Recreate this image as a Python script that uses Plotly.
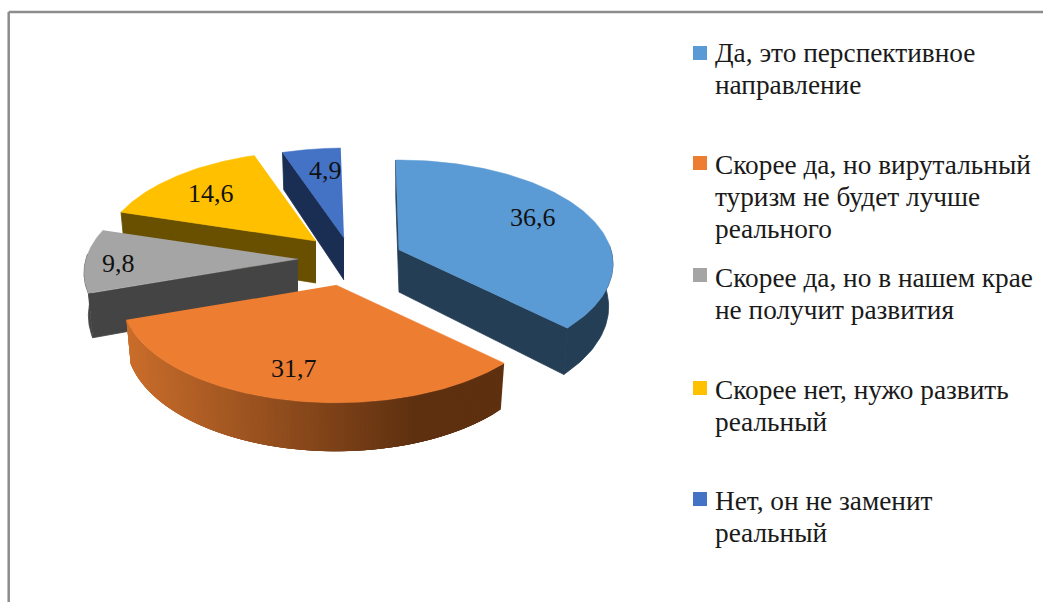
import numpy as np
import plotly.graph_objects as go

# ---- data ----
categories = [
    "Да, это перспективное<br>направление",
    "Скорее да, но вирутальный<br>туризм не будет лучше<br>реального",
    "Скорее да, но в нашем крае<br>не получит развития",
    "Скорее нет, нужо развить<br>реальный",
    "Нет, он не заменит<br>реальный",
]
values = [36.6, 31.7, 9.8, 14.6, 4.9]
value_text = ["36,6", "31,7", "9,8", "14,6", "4,9"]

# ---- style ----
top_colors = ["#5b9bd5", "#ed7d31", "#a5a5a5", "#ffc000", "#4472c4"]
wall_colors = ["#243e56", None, "#444444", "#695000", "#1a2d52"]
grad_from, grad_to = np.array([203, 110, 44]), np.array([94, 48, 16])

# view parameters of the tilted, exploded disc
RX, TILT, PERSP, DEPTH, ROTATION = 212, 102, 0.134, 42, -1.0
apex_x = [399, 336, 298, 316, 344]
apex_y = [250, 285, 259, 241, 238]
draw_order = [3, 4, 2, 0, 1]
label_dx = [134, -42, -180, -105, -19]
label_dy = [-33, 83, 4, -48, -68]
legend_y = [53, 165, 278, 390, 501]
legend_marker_y = [53, 163, 275, 388, 499]
LINE_STEP = 32


def project(ax, ay, deg, r=1.0, drop=False):
    t = np.radians(deg)
    s = 1 / (1 + PERSP * np.cos(t) * r)
    x = RX * np.sin(t) * r * s
    y = -TILT * np.cos(t) * r * s
    if drop:
        return ax + 0.98 * x, ay + y + DEPTH * s
    return ax + x, ay + y


def poly(xs, ys, color, lw=0.8):
    return go.Scatter(x=list(xs), y=list(ys), mode="lines", fill="toself",
                      fillcolor=color, line=dict(color=color, width=lw),
                      hoverinfo="skip", showlegend=False)


fig = go.Figure()
shares = np.array(values) / sum(values) * 360
ends = np.cumsum(shares) + ROTATION
starts = ends - shares

for i in draw_order:
    a0, a1 = starts[i], ends[i]
    ax, ay = apex_x[i], apex_y[i]
    th = np.linspace(a0, a1, 120)
    tx, ty = project(ax, ay, th)
    bx, by = project(ax, ay, th, drop=True)
    abx, aby = project(ax, ay, 0.0, r=0.0, drop=True)
    col = wall_colors[i]
    # radial cut faces: only those turned towards the viewer
    if col:
        if np.sin(np.radians(a0)) < 0:
            fig.add_trace(poly([ax, tx[0], bx[0], abx], [ay, ty[0], by[0], aby], col))
        if np.sin(np.radians(a1)) > 0:
            fig.add_trace(poly([ax, tx[-1], bx[-1], abx], [ay, ty[-1], by[-1], aby], col))
    # outer rim: only its front part
    front = np.cos(np.radians(th)) < 0.05
    if front.any():
        idx = np.where(front)[0]
        if col:
            rx, ry = tx[idx], ty[idx]
            qx, qy = bx[idx], by[idx]
            fig.add_trace(poly(np.r_[rx, qx[::-1]], np.r_[ry, qy[::-1]], col))
        else:
            # shaded rim: narrow bands, each overlapping the next one
            for k in idx[:-1]:
                m = min(k + 4, idx[-1])
                f = np.clip((tx[k] - 125) / (420 - 125), 0, 1)
                c = grad_from + (grad_to - grad_from) * f
                shade = "rgb(%d,%d,%d)" % tuple(c)
                fig.add_trace(poly(np.r_[tx[k:m + 1], bx[k:m + 1][::-1]],
                                   np.r_[ty[k:m + 1], by[k:m + 1][::-1]], shade, lw=0))
    fig.add_trace(poly(np.r_[ax, tx], np.r_[ay, ty], top_colors[i], lw=0.5))

# value labels
for i in range(len(values)):
    fig.add_annotation(x=apex_x[i] + label_dx[i], y=apex_y[i] + label_dy[i],
                       text=value_text[i], showarrow=False,
                       xanchor="center", yanchor="middle",
                       font=dict(family="Liberation Serif", size=26, color="#111111"))

# legend
fig.add_trace(go.Scatter(x=[700] * len(categories), y=legend_marker_y, mode="markers",
                         marker=dict(symbol="square", size=14, color=top_colors),
                         hoverinfo="skip", showlegend=False))
for i, c in enumerate(categories):
    for j, line in enumerate(c.split("<br>")):
        fig.add_annotation(x=713, y=legend_y[i] + j * LINE_STEP, text=line, showarrow=False,
                           xanchor="left", yanchor="middle", align="left",
                           font=dict(family="Liberation Serif", size=27.3, color="#1a1a1a"))

# chart frame (only top and left edges fall inside the picture)
frame = dict(color="#8c8c8c", width=2.5)
fig.add_shape(type="line", x0=8.7, x1=8.7, y0=12, y1=602, line=frame)
fig.add_shape(type="line", x0=8.7, x1=1043, y0=12, y1=12, line=frame)

fig.update_xaxes(range=[0, 1043], visible=False, fixedrange=True)
fig.update_yaxes(range=[602, 0], visible=False, fixedrange=True)
fig.update_layout(width=1043, height=602, margin=dict(l=0, r=0, t=0, b=0),
                  paper_bgcolor="white", plot_bgcolor="white", showlegend=False)
fig.write_html("out.html", config=dict(displayModeBar=False),
               post_script="document.body.style.margin='0';document.body.style.overflow='hidden';")
